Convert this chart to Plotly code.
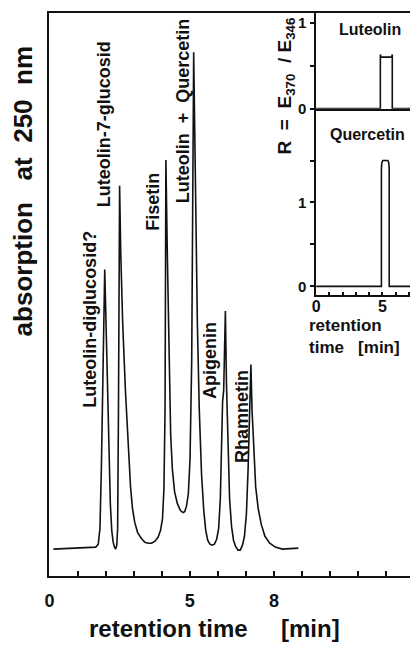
import plotly.graph_objects as go

# ---- main chromatogram (absorption at 250 nm, arbitrary units) ----
main_time = [0.14, 1.00, 1.65, 1.74, 1.80, 1.85, 1.90, 1.97, 2.04, 2.11, 2.17,
             2.22, 2.27, 2.32, 2.36, 2.40, 2.43, 2.46, 2.50, 2.54, 2.61, 2.71,
             2.82, 2.89, 2.96, 3.04, 3.14, 3.27, 3.40, 3.52, 3.64, 3.76, 3.87,
             3.96, 4.03, 4.08, 4.12, 4.15, 4.20, 4.26, 4.32, 4.38, 4.46, 4.56,
             4.67, 4.76, 4.82, 4.88, 4.95, 5.01, 5.07, 5.14, 5.20, 5.27, 5.34,
             5.42, 5.50, 5.57, 5.64, 5.72, 5.80, 5.88, 5.96, 6.03, 6.09, 6.13,
             6.17, 6.21, 6.27, 6.31, 6.36, 6.42, 6.49, 6.56, 6.63, 6.72, 6.80,
             6.88, 6.95, 7.02, 7.08, 7.13, 7.18, 7.22, 7.28, 7.35, 7.44, 7.55,
             7.68, 7.85, 8.05, 8.30, 8.87]
main_abs = [-1, 0, 1, 4, 20, 80, 160, 282, 200, 110, 45,
            18, 6, 1, -1, 3, 20, 140, 367, 300, 228, 158,
            95, 62, 40, 26, 16, 10, 6, 5, 5, 7, 11,
            18, 30, 60, 140, 393, 300, 185, 115, 80, 57, 45,
            38, 36, 37, 42, 55, 90, 190, 502, 360, 230, 140,
            75, 38, 18, 8, 4, 3, 4, 9, 20, 50, 110,
            148, 160, 240, 165, 100, 50, 22, 8, 2, -2, -2,
            3, 12, 35, 80, 130, 186, 140, 95, 62, 40, 24,
            12, 5, 1, -1, 0]

main_ticks = list(range(0, 13))
main_ticktext = ["0", "", "", "", "", "5", "", "", "8", "", "", "", ""]

peak_names = ["Luteolin-diglucosid?", "Luteolin-7-glucosid", "Fisetin",
              "Luteolin\u00a0\u00a0+\u00a0\u00a0Quercetin", "Apigenin", "Rhamnetin"]
label_time = [1.44, 1.97, 3.70, 4.75, 5.74, 6.87]
label_abs = [232, 429, 351, 443, 190, 133]

# ---- inset: ratio R = E370 / E346 ----
lut_time = [0, 4.85, 4.85, 4.89, 5.71, 5.75, 5.75, 7.1]
lut_ratio = [0, 0, 0.63, 0.60, 0.60, 0.63, 0, 0]
que_time = [0, 4.93, 4.93, 4.96, 5.03, 5.42, 5.49, 5.52, 5.52, 7.1]
que_ratio = [0, 0, 1.40, 1.47, 1.50, 1.50, 1.47, 1.40, 0, 0]

inset_xticks = list(range(0, 8))
inset_xtext = ["0", "", "", "", "", "5", "", ""]
lut_yticks = [0, 0.5, 1]
lut_ytext = ["0", "", "1"]
que_yticks = [0, 0.5, 1, 1.5]
que_ytext = ["0", "", "1", ""]

FONT = "Liberation Sans, Arial, Helvetica, sans-serif"
INK = "#111111"

fig = go.Figure()
fig.add_trace(go.Scatter(x=main_time, y=main_abs, mode="lines",
                         line=dict(color=INK, width=1.6), xaxis="x", yaxis="y",
                         showlegend=False, hoverinfo="skip"))
fig.add_trace(go.Scatter(x=lut_time, y=lut_ratio, mode="lines",
                         line=dict(color=INK, width=1.6), xaxis="x3", yaxis="y2",
                         showlegend=False, hoverinfo="skip"))
fig.add_trace(go.Scatter(x=que_time, y=que_ratio, mode="lines",
                         line=dict(color=INK, width=1.6), xaxis="x2", yaxis="y3",
                         showlegend=False, hoverinfo="skip"))

W, H = 410, 646
def px(x):
    return x / W
def py(y):
    return 1 - y / H

axis_common = dict(showgrid=False, zeroline=False, showline=True,
                   linecolor=INK, linewidth=1.5, tickcolor=INK)

fig.update_layout(
    width=W, height=H, margin=dict(l=0, r=0, t=0, b=0),
    paper_bgcolor="white", plot_bgcolor="rgba(0,0,0,0)",
    font=dict(family=FONT, color=INK),
    xaxis=dict(axis_common, domain=[px(45), 1], range=[0, 12.85], anchor="y",
               mirror=True, tickmode="array", tickvals=main_ticks,
               ticktext=main_ticktext, ticks="inside", ticklen=5, tickwidth=1.5,
               ticklabelstandoff=8,
               tickfont=dict(size=18, weight="bold")),
    yaxis=dict(axis_common, domain=[py(583), py(13)], range=[-28, 542],
               anchor="x", ticks="", showticklabels=False),
    xaxis2=dict(axis_common, domain=[px(315), 1], range=[0, 7.09], anchor="y3",
                tickmode="array", tickvals=inset_xticks, ticktext=inset_xtext,
                ticks="inside", ticklen=4, tickwidth=1.5, ticklabelstandoff=-4,
                tickfont=dict(size=16, weight="bold")),
    yaxis3=dict(axis_common, domain=[py(299), py(110)], range=[-0.106, 2.118],
                anchor="x2", tickmode="array", tickvals=que_yticks,
                ticktext=que_ytext, ticks="outside", ticklen=4, tickwidth=1.5,
                ticklabelstandoff=1,
                tickfont=dict(size=15, weight="bold")),
    xaxis3=dict(axis_common, domain=[px(315), 1], range=[0, 7.09], anchor="y2",
                mirror=True, ticks="", showticklabels=False),
    yaxis2=dict(axis_common, domain=[py(110), py(13)], range=[0, 1.115],
                anchor="x3", tickmode="array", tickvals=lut_yticks,
                ticktext=lut_ytext, ticks="outside", ticklen=4, tickwidth=1.5,
                ticklabelstandoff=1,
                tickfont=dict(size=15, weight="bold")),
)

annotations = []
for name, t, a in zip(peak_names, label_time, label_abs):
    annotations.append(dict(text=name, x=t, y=a, xref="x", yref="y",
                            textangle=-90, showarrow=False,
                            xanchor="center", yanchor="middle",
                            font=dict(size=18, weight="bold", color=INK)))

sp = "\u00a0"
annotations += [
    dict(text="Luteolin", x=4.1, y=0.92, xref="x3", yref="y2", showarrow=False,
         font=dict(size=16, weight="bold", color=INK)),
    dict(text="Quercetin", x=3.9, y=1.81, xref="x2", yref="y3", showarrow=False,
         font=dict(size=16, weight="bold", color=INK)),
    dict(text="R" + sp * 2 + "=" + sp * 2 + "E<sub>370</sub>" + sp * 2 + "/" + sp
         + "E<sub>346</sub>", x=px(284), y=py(87),
         xref="paper", yref="paper", textangle=-90, showarrow=False,
         xanchor="center", yanchor="middle",
         font=dict(size=19, weight="bold", color=INK)),
    dict(text="retention<br>time" + sp * 3 + "[min]", x=px(306), y=py(341),
         xref="paper", yref="paper", showarrow=False, align="left",
         xanchor="left", yanchor="middle",
         font=dict(size=17, weight="bold", color=INK)),
    dict(text="retention" + sp + "time" + sp * 5 + "[min]",
         x=px(212), y=py(636), xref="paper", yref="paper", showarrow=False,
         xanchor="center", yanchor="middle",
         font=dict(size=24, weight="bold", color=INK)),
    dict(text="absorption" + sp * 3 + "at" + sp * 2 + "250" + sp * 2 + "nm",
         x=px(18), y=py(194),
         xref="paper", yref="paper", textangle=-90, showarrow=False,
         xanchor="center", yanchor="middle",
         font=dict(size=26, weight="bold", color=INK)),
]
fig.update_layout(annotations=annotations)

fig.write_html("out.html")
